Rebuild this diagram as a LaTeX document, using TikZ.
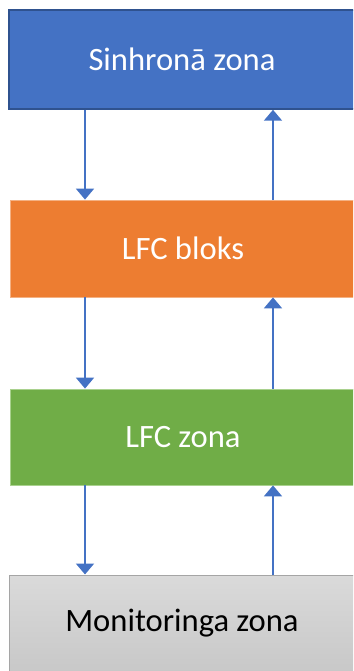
\documentclass[tikz,border=0pt]{standalone}
\usepackage{fontspec}
\setmainfont{Carlito}
\usetikzlibrary{arrows.meta}
\definecolor{cblue}{HTML}{4472C4}
\definecolor{cblueb}{HTML}{2F528F}
\definecolor{corange}{HTML}{ED7D31}
\definecolor{coranged}{HTML}{F4B183}
\definecolor{cgreen}{HTML}{70AD47}
\definecolor{cgreend}{HTML}{A9D18E}
\definecolor{cgraytop}{HTML}{DADADA}
\definecolor{cgraybot}{HTML}{C8C8C8}
\definecolor{cgrayb}{HTML}{A5A5A5}
\tikzset{
  zonebox/.style={rectangle, minimum width=352pt, minimum height=97pt, inner sep=0pt,
    font=\fontsize{32.6}{39}\selectfont},
  arr/.style={draw=cblue, line width=2pt, -{Triangle[width=18pt,length=11pt]}}
}
\begin{document}
\begin{tikzpicture}[x=1pt,y=-1pt]
\useasboundingbox (0,0) rectangle (353,671);
\clip (0,0) rectangle (353,671);
\node[zonebox, fill=cblue, draw=cblueb, line width=1.5pt, text=white, minimum height=99pt] (sz) at (185,59.5) {\hspace*{-6pt}Sinhronā zona};
\node[zonebox, fill=corange, draw=coranged, line width=0.8pt, text=white] (lb) at (186,248.5) {\hspace*{-6pt}LFC bloks};
\node[zonebox, fill=cgreen, draw=cgreend, line width=0.8pt, text=white, minimum height=96pt] (lz) at (186,437) {\hspace*{-6pt}LFC zona};
\node[zonebox, top color=cgraytop, bottom color=cgraybot, draw=cgrayb, line width=1pt, text=black] (mz) at (185,623.5) {\hspace*{-6pt}Monitoringa zona};
\coordinate (dn) at (85,0);
\coordinate (up) at (273,0);
\draw[arr] (sz.south -| dn) -- (lb.north -| dn);
\draw[arr] (lb.north -| up) -- (sz.south -| up);
\draw[arr] (lb.south -| dn) -- (lz.north -| dn);
\draw[arr] (lz.north -| up) -- (lb.south -| up);
\draw[arr] (lz.south -| dn) -- (mz.north -| dn);
\draw[arr] (mz.north -| up) -- (lz.south -| up);
\end{tikzpicture}
\end{document}
